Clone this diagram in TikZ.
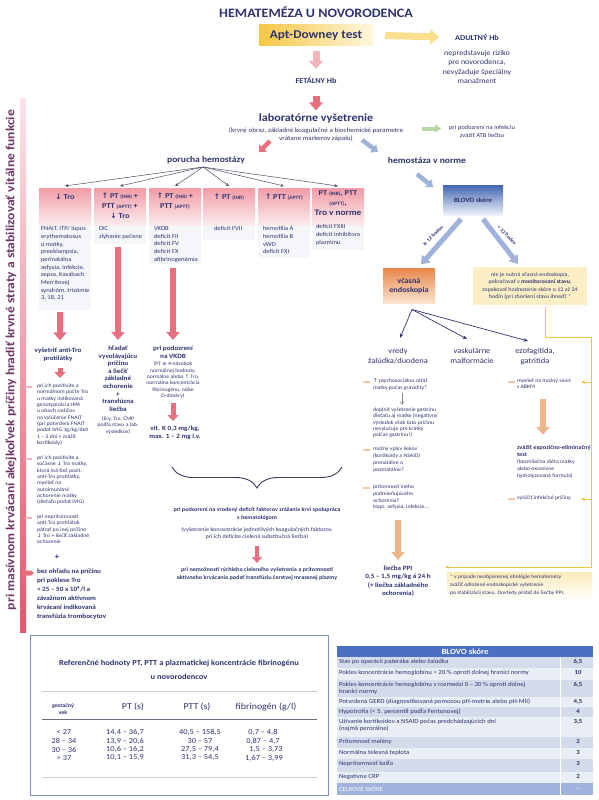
\documentclass[tikz,border=0pt]{standalone}
\usepackage{fontspec}
\usepackage{graphicx}
\setmainfont[FakeStretch=1.1]{Carlito}
\newfontfamily\symf{DejaVu Sans}
\usetikzlibrary{arrows.meta,decorations.pathreplacing,calc}
\definecolor{navy}{HTML}{2E3470}
\definecolor{redA}{HTML}{E8707E}
\definecolor{pinkA}{HTML}{F4B4BC}
\definecolor{pinkH}{HTML}{F29CA6}
\definecolor{pinkL}{HTML}{FCEDEF}
\definecolor{blueA}{HTML}{9EB2DB}
\definecolor{yelA}{HTML}{F9E08C}
\definecolor{yelL}{HTML}{F0C545}
\definecolor{yelBox}{HTML}{FCEFC5}
\definecolor{grnA}{HTML}{B8D8A3}
\definecolor{orA}{HTML}{EFB58C}
\definecolor{orM}{HTML}{F3C8A4}
\definecolor{bodyF}{HTML}{F5F6FA}
\definecolor{aptL}{HTML}{F6C744}
\definecolor{aptR}{HTML}{FEF7DE}
\definecolor{bloT}{HTML}{4266B0}
\definecolor{bloB}{HTML}{EEF2FA}
\definecolor{orT}{HTML}{E9874C}
\definecolor{orB}{HTML}{FBE4D3}
\definecolor{vtxt}{HTML}{6E3566}
\definecolor{bandT}{HTML}{FBE3E7}
\definecolor{bandB}{HTML}{E4566C}
\definecolor{tblB}{HTML}{7D93C2}
\definecolor{tblL}{HTML}{C9CEDC}
\definecolor{tblK}{HTML}{6E6F7E}
\definecolor{bH}{HTML}{4A70C2}
\definecolor{bD}{HTML}{D4DBEA}
\definecolor{bL}{HTML}{EAEEF6}
\definecolor{bT}{HTML}{9FB3DE}
\definecolor{fanC}{HTML}{4A4D63}
\definecolor{brC}{HTML}{3B3F5E}
\newcommand\fs[2]{\fontsize{#1}{#2}\selectfont}
\newcommand\smc[1]{{\fontsize{5}{6}\selectfont #1}}
\newcommand\myup{{\symf ↑}}
\newcommand\mydn{{\symf ↓}}
\newcommand\myge{{\symf ≥}}
\newcommand\brow[5]{%
  \fill[#3] (337,#1) rectangle (593,#2);
  \draw[white,line width=0.7pt] (337,#2) -- (593,#2);
  \node[font=\fs{6.2}{7.3},align=left,anchor=north west] (brt#1) at (339,#1+2.2) {#4};
  \node[font=\bfseries\fs{6.2}{7.3},anchor=north] (brv#1) at (578,#1+2.2) {#5};
}
\begin{document}
\begin{tikzpicture}[x=1pt,y=-1pt,
  every node/.style={inner sep=0pt,outer sep=0pt,text=navy,align=center},
  blk/.style n args={3}{line width=#1,-{Triangle[width=#2,length=#3]}},
  fanarr/.style={draw=fanC,line width=0.5pt,-{Stealth[length=3.5pt,width=3pt]}},
  endarr/.style={draw=navy,line width=0.7pt,-{Stealth[length=4.5pt,width=3.5pt]}},
  yline/.style={draw=yelL,line width=0.8pt},
  yarr/.style={draw=yelL,line width=0.8pt,-{Stealth[length=4pt,width=3.5pt]}},
  tinyl/.style={font=\fs{5.3}{6.3},align=left,anchor=north west},
  bodyt/.style={font=\fs{6}{7.7},align=left,anchor=north west},
  hdrbox/.style={anchor=north,minimum width=52pt,minimum height=38pt,top color=pinkH,bottom color=pinkL},
  bodybox/.style={anchor=north,minimum width=52pt,fill=bodyF},
  hdrt/.style={font=\bfseries\fs{7.5}{10},anchor=north},
  mkr/.style={fill=pinkA,minimum width=7pt,minimum height=2pt},
  mko/.style={fill=orM,minimum width=7pt,minimum height=2pt},
]
\useasboundingbox[fill=white] (0,0) rectangle (599,800);

% ---- left band and vertical text
\node[minimum width=6pt,minimum height=534pt,top color=bandT,bottom color=bandB] (band) at (23,365) {};
\node[rotate=90,font=\bfseries\fs{12.3}{14},text=vtxt] (vert) at (11,360) {pri masívnom krvácaní akejkoľvek príčiny hradiť krvné straty a stabilizovať vitálne funkcie};

% ---- top
\node[font=\bfseries\fs{12.8}{15}] (title) at (316,12) {HEMATEMÉZA U NOVORODENCA};
\node[minimum width=114pt,minimum height=21pt,left color=aptL,right color=aptR,font=\bfseries\fs{12}{14}] (apt) at (316,35.5) {Apt-Downey test};
\node[font=\bfseries\fs{7.5}{9}] (adult) at (477,37) {ADULTNÝ Hb};
\node[font=\fs{7.3}{9.2}] (adtx) at (477,67) {nepredstavuje riziko\\pre novorodenca,\\nevyžaduje špeciálny\\manažment};
\draw[blk={7pt}{15pt}{9pt},yelA] ([xshift=12pt]apt.east) -- ([xshift=-16pt]adult.west);
\node[font=\bfseries\fs{7.5}{9}] (fetal) at (316,80) {FETÁLNY Hb};
\draw[blk={7pt}{14pt}{8pt},pinkA] ([yshift=-5pt]apt.south) -- ([yshift=8pt]fetal.north);
\node[font=\bfseries\fs{11}{13}] (lab) at (316,119) {laboratórne vyšetrenie};
\draw[blk={7pt}{14pt}{8pt},redA] ([yshift=-13pt]fetal.south) -- ([yshift=4pt]lab.north);
\node[font=\fs{6.5}{8}] (labsub) at (316,134.5) {(krvný obraz, základné koagulačné a biochemické parametre\\vrátane markerov zápalu)};
\node[font=\fs{6}{8.5}] (inf) at (482,131.5) {pri podozrení na infekciu\\zvážiť ATB liečbu};
\draw[blk={4pt}{8pt}{6pt},grnA] ([xshift=-27pt,yshift=3pt]inf.west) -- ([xshift=-8pt,yshift=3pt]inf.west);

\node[font=\bfseries\fs{8.7}{10}] (poru) at (206,160) {porucha hemostázy};
\node[font=\bfseries\fs{8.7}{10}] (norm) at (427,160) {hemostáza v norme};
\coordinate (rd1) at (270,141);
\coordinate (bd1) at (362,140);
\draw[blk={4.5pt}{10pt}{6pt},redA] (rd1) -- ($(poru.north east)+(14,-4)$);
\draw[blk={4.5pt}{10pt}{6pt},blueA] (bd1) -- ($(norm.north west)+(-10,-5)$);

% ---- BLOVO box
\node[minimum width=60pt,minimum height=30pt,top color=bloT,bottom color=bloB,font=\bfseries\fs{6.5}{8}] (blovo) at (473,200) {\raisebox{-3pt}{BLOVO skóre}};
\draw[blk={4.5pt}{10pt}{6pt},blueA] ($(norm.south)+(-10,11)$) -- ($(blovo.north west)+(-10,2)$);

% ---- hemostasis boxes
\coordinate (fo) at (203,167);
\foreach \i/\x in {1/65,2/120,3/175,4/229,5/284,6/338}{
  \node[hdrbox] (h\i) at (\x,188) {};
  \draw[fanarr] (fo) -- ([yshift=2pt]h\i.north);
}
\node[bodybox,minimum height=84pt] (b1) at (65,226) {};
\node[bodybox,minimum height=18pt] (b2) at (120,226) {};
\node[bodybox,minimum height=38pt] (b3) at (175,226) {};
\node[bodybox,minimum height=14pt] (b4) at (229,226) {};
\node[bodybox,minimum height=32pt] (b5) at (284,226) {};
\node[bodybox,minimum height=24pt] (b6) at (338,226) {};

\node[hdrt] (t1) at (65,194) {\mydn{} Tro};
\node[hdrt] (t2) at (120,193) {\myup{} PT \smc{(INR)} +\\PTT \smc{(APTT)} +\\\mydn{} Tro};
\node[hdrt] (t3) at (175,193) {\myup{} PT \smc{(INR)} +\\PTT \smc{(APTT)}};
\node[hdrt] (t4) at (229,194) {\myup{} PT \smc{(INR)}};
\node[hdrt] (t5) at (284,194) {\myup{} PTT \smc{(APTT)}};
\node[hdrt] (t6) at (338,191) {PT \smc{(INR)}, PTT\\\smc{(APTT)},\\{\fs{8.5}{10}Tro v norme}};

\node[bodyt] (bt1) at (41,226.5) {FNAIT, ITP/ lupus\\erythematosus\\u matky,\\preeklampsia,\\perinatálna\\asfyxia, infekcie,\\sepsa, Kasabach\\Merritovej\\syndróm, trizómie\\3, 18, 21};
\node[bodyt] (bt2) at (99,226.5) {DIC\\zlyhanie pečene};
\node[bodyt] (bt3) at (154,226.5) {VKDB\\deficit FII\\deficit FV\\deficit FX\\afibrinogenémia};
\node[bodyt] (bt4) at (214,226.5) {deficit FVII};
\node[bodyt] (bt5) at (263,226.5) {hemofília A\\hemofília B\\vWD\\deficit FXI};
\node[bodyt] (bt6) at (316,224.5) {deficit FXIII\\deficit inhibítora\\plazmínu};

% ---- column 1
\node[font=\bfseries\fs{6.5}{8.5}] (anti) at (58,354.5) {vyšetriť anti-Tro\\protilátky};
\draw[blk={6pt}{13pt}{8pt},redA] ($(b1.south -| anti.north)+(2,2)$) -- ($(anti.north)+(2,-7)$);
\node[tinyl] (bul1) at (37,384) {pri ich pozitivite a\\normálnom počte Tro\\u matky indikovaná\\genotypizácia HPA\\u oboch rodičov\\na vylúčenie FNAIT\\(pri potvrdení FNAIT\\podať IVIG 1g/kg/deň\\1 – 3 dni + zvážiť\\kortikoidy)};
\draw[blk={5pt}{11pt}{6pt},redA] ($(anti.south)+(2,6)$) -- ($(bul1.north -| anti.south)+(2,-6)$);
\node[mkr] (m1) at (28.5,387) {};
\node[tinyl] (bul2) at (37,456) {pri ich pozitivite a\\súčasne \mydn{} Tro matky,\\ktorá má tiež pozit.\\anti-Tro protilátky,\\myslieť na\\autoimunitné\\ochorenie matky\\(dieťaťu podať IVIG)};
\node[mkr] (m2) at (28.5,459) {};
\node[tinyl] (bul3) at (37,515) {pri neprítomnosti\\anti-Tro protilátok\\pátrať po inej príčine\\\mydn{} Tro + liečiť základné\\ochorenie};
\node[mkr] (m3) at (28.5,518) {};
\node[font=\bfseries\fs{8}{9}] (plus) at (57,557) {+};
\fill[redA] (22,570.5) -- (31,570.5) -- (34,573) -- (31,575.5) -- (22,575.5) -- cycle;
\node[font=\bfseries\fs{6.5}{9},align=left,anchor=north west] (bul4) at (37,569) {bez ohľadu na príčinu\\pri poklese Tro\\< 25 – 50 x 10\textsuperscript{9}/l a\\závažnom aktívnom\\krvácaní indikovaná\\transfúzia trombocytov};

% ---- column 2
\node[font=\bfseries\fs{6.5}{7.6},anchor=north] (hl) at (118,346) {hľadať\\vyvolávajúcu\\príčinu\\a liečiť\\základné\\ochorenie\\+\\transfúzna\\liečba};
\draw[blk={6pt}{13pt}{8pt},redA] ($(b2.south -| hl.north)+(0,3)$) -- ($(hl.north)+(0,-6)$);
\node[font=\fs{5.2}{6.2},anchor=north] (ery) at (118,416.5) {(Ery, Tro, ČMP\\podľa stavu a lab.\\výsledkov)};

% ---- column 3
\node[font=\bfseries\fs{6.5}{8},anchor=north] (vk) at (173,346) {pri podozrení\\na VKDB};
\draw[blk={6pt}{13pt}{8pt},redA] ($(b3.south -| vk.north)+(0,4)$) -- ($(vk.north)+(0,-6)$);
\node[font=\fs{5.2}{6.3},anchor=north] (vkd) at (173,362) {(PT \myge{} 4-násobok\\normálnej hodnoty,\\normálne alebo \myup{} Tro,\\normálna koncentrácia\\fibrinogénu, nízke\\D-diméry)};
\node[font=\bfseries\fs{6.5}{8},anchor=north] (vitk) at (175,426) {vit. K 0,3 mg/kg,\\max. 1 – 2 mg i.v.};
\draw[blk={5pt}{11pt}{6pt},redA] ($(vkd.south)+(0,5)$) -- ($(vitk.north -| vkd.south)+(0,-5)$);

% ---- brace and congenital deficit
\coordinate (brL) at (172,467);
\coordinate (brR) at (342,467);
\draw[brC,line width=0.9pt,decorate,decoration={brace,amplitude=21pt,mirror}] (brL) -- (brR);
\node[font=\bfseries\fs{5.6}{8},anchor=north] (hem1) at (257,508) {pri podozrení na vrodený deficit faktorov zrážania krvi spolupráca\\s hematológom};
\node[font=\fs{5.6}{7},anchor=north] (hem2) at (257,527.5) {(vyšetrenie koncentrácie jednotlivých koagulačných faktorov,\\pri ich deficite cielená substitučná liečba)};
\node[font=\bfseries\fs{5.6}{7.5},anchor=north] (hem3) at (257,568) {pri nemožnosti rýchleho cieleného vyšetrenia a prítomnosti\\aktívneho krvácania podať transfúziu čerstvej mrazenej plazmy};
\draw[blk={4.5pt}{10pt}{6pt},redA] ($(hem2.south)+(0,6)$) -- ($(hem3.north)+(0,-5)$);

% ---- endoscopy branch
\node[minimum width=52pt,minimum height=35pt,top color=orT,bottom color=orB,font=\bfseries\fs{7.5}{9}] (vcas) at (409,286) {včasná\\endoskopia};
\node[minimum width=114pt,minimum height=38pt,fill=yelBox,font=\fs{5.5}{7.4}] (nie) at (530,286) {nie je nutná včasná endoskopia,\\pokračovať v \textbf{monitorovaní stavu},\\zopakovať hodnotenie skóre o 12 až 24\\hodín (pri zhoršení stavu ihneď) *};
\draw[blk={5pt}{11pt}{8pt},blueA] ($(blovo.south)+(-12,4)$) -- ($(vcas.north)+(12,-4)$);
\draw[blk={5pt}{11pt}{8pt},blueA] ($(blovo.south)+(10,4)$) -- ($(nie.north)+(-12,-3)$);
\node[rotate=44,font=\bfseries\fs{5}{6}] (ge12) at (433,236) {\myge{} 12 bodov};
\node[rotate=-46,font=\bfseries\fs{5}{6}] (lt12) at (507,235) {< 12 bodov};

\node[font=\fs{7.7}{10},anchor=north] (vredy) at (398,348) {vredy\\žalúdka/duodena};
\node[font=\fs{7.7}{10},anchor=north] (vask) at (472,348) {vaskulárne\\malformácie};
\node[font=\fs{7.7}{10},anchor=north] (ezof) at (535,348) {ezofagitída,\\gatritída};
\coordinate (eo) at ($(vcas.south)+(3,6)$);
\draw[endarr] (eo) -- ($(vredy.north)+(2,-10)$);
\draw[endarr] (eo) -- ($(vask.north)+(-5,-9)$);
\draw[endarr] (eo) -- ($(ezof.north)+(-7,-7)$);

\node[mko] (mv1) at (366.5,382) {};
\node[tinyl] (tv1) at (373,379) {\myup{} psychosociálna záťaž\\matky počas gravidity?};
\node[tinyl] (tv2) at (373,408) {doplniť vyšetrenie gastrínu\\dieťaťu aj matke (negatívny\\výsledok však túto príčinu\\nevylučuje pre krátky\\polčas gastrínu!)};
\draw[draw=fanC!70,line width=0.5pt,-{Straight Barb[length=3pt,width=4pt]}] ($(tv1.south west)+(29,3)$) -- ($(tv2.north west)+(29,-3)$);
\node[mko] (mv2) at (366.5,450) {};
\node[tinyl,font=\fs{5.3}{7}] (tv3) at (373,447) {možný vplyv liekov\\(kortikoidy a NSAID)\\prenatálne a\\postnatálne?};
\node[mko] (mv3) at (366.5,488) {};
\node[tinyl,font=\fs{5.3}{6.7}] (tv4) at (373,485) {prítomnosť iného\\podmieňujúceho\\ochorenia?\\Napr. asfyxia, infekcie...};
\node[font=\bfseries\fs{6.5}{8.3},anchor=north] (ppi) at (398,566) {liečba PPI\\0,5 – 1,5 mg/kg á 24 h\\(+ liečba základného\\ochorenia)};
\draw[blk={6pt}{13pt}{8pt},orA] ($(tv4.south -| ppi.north)+(0,10)$) -- ($(ppi.north)+(0,-6)$);

\node[mko] (me1) at (511.5,382) {};
\node[tinyl] (te1) at (517,379) {myslieť na možný súvis\\s ABKM};
\node[font=\bfseries\fs{5.8}{7},align=left,anchor=north west] (te2) at (517,445) {zvážiť expozično-eliminačný\\test};
\draw[blk={6pt}{13pt}{8pt},orA] ($(te1.south west)+(26,10)$) -- ($(te2.north west)+(26,-10)$);
\node[tinyl,font=\fs{5.3}{7}] (te3) at (517,459.5) {(bezmliečna diéta matky\\alebo excesívne\\hydrolyzovaná formula)};
\node[mko] (me2) at (511.5,499) {};
\node[tinyl] (te4) at (517,496) {vylúčiť infekčné príčiny};

% footnote
\node[minimum width=145pt,minimum height=28pt,top color=yelBox!90!yelL,bottom color=white,anchor=north west] (foot) at (447,572) {};
\node[font=\fs{5.2}{8},align=left,anchor=north west] (foottx) at (450,574.5) {* v prípade neobjasnenej etiológie hematemézy\\zvážiť odložené endoskopické vyšetrenie\\po stabilizácii stavu. Dovtedy pridať do liečby PPI.};

% yellow connector
\coordinate (y1) at (591,337);
\coordinate (y2) at (591,567);
\draw[yarr] ($(nie.south)+(15,2)$) |- (y1) -- (y2) -- ($(foot.north west)+(-2,-5)$);
\coordinate (yb1) at (591,382); \coordinate (ye1) at (581,382);
\coordinate (yb2) at (591,499); \coordinate (ye2) at (581,499);
\draw[yarr] (yb1) -- (ye1);
\draw[yarr] (yb2) -- (ye2);

% ---- reference table
\node[draw=tblB,line width=1pt,minimum width=298pt,minimum height=160pt,anchor=north west] (reft) at (30,635) {};
\node[font=\bfseries\fs{7.7}{14}] (rtit) at (179,670) {Referenčné hodnoty PT, PTT a plazmatickej koncentrácie fibrinogénu\\u novorodencov};
\draw[tblL,line width=0.6pt] (42,691) -- (317,691);
\node[font=\bfseries\fs{5.5}{7.5}] (rh1) at (63,709) {gestačný\\vek};
\node[font=\fs{9}{11}] (rh2) at (133,707) {PT (s)};
\node[font=\fs{9}{11}] (rh3) at (197,707) {PTT (s)};
\node[font=\fs{9}{11}] (rh4) at (266,707) {fibrinogén (g/l)};
\draw[tblK,line width=0.9pt] (42,719) -- (317,719);
\node[font=\fs{7.6}{9}] (r1a) at (64,732) {< 27};
\node[font=\fs{7.6}{9}] (r1b) at (125,732) {14,4 – 36,7};
\node[font=\fs{7.6}{9}] (r1c) at (200,732) {40,5 – 158,5};
\node[font=\fs{7.6}{9}] (r1d) at (263,732) {0,7 – 4,8};
\node[font=\fs{7.6}{9}] (r2a) at (64,741) {28 – 34};
\node[font=\fs{7.6}{9}] (r2b) at (125,741) {13,9 – 20,6};
\node[font=\fs{7.6}{9}] (r2c) at (200,741) {30 – 57};
\node[font=\fs{7.6}{9}] (r2d) at (263,741) {0,87 – 4,7};
\node[font=\fs{7.6}{9}] (r3a) at (64,749.5) {30 – 36};
\node[font=\fs{7.6}{9}] (r3b) at (125,749.5) {10,6 – 16,2};
\node[font=\fs{7.6}{9}] (r3c) at (200,749.5) {27,5 – 79,4};
\node[font=\fs{7.6}{9}] (r3d) at (266,749.5) {1,5 – 3,73};
\node[font=\fs{7.6}{9}] (r4a) at (64,758) {> 37};
\node[font=\fs{7.6}{9}] (r4b) at (125,758) {10,1 – 15,9};
\node[font=\fs{7.6}{9}] (r4c) at (200,758) {31,3 – 54,5};
\node[font=\fs{7.6}{9}] (r4d) at (264,758) {1,67 – 3,99};
\draw[tblL,line width=0.6pt] (42,777) -- (317,777);

% ---- BLOVO table
\node[fill=bH,minimum width=256pt,minimum height=11pt,anchor=north west,font=\bfseries\fs{8}{9},text=white] (bth) at (337,646) {BLOVO skóre};
\brow{657}{668}{bD}{Stav po operácii pažeráka alebo žalúdka}{6,5}
\brow{668}{680}{bL}{Pokles koncentrácie hemoglobínu > 20 \% oproti dolnej hranici normy}{10}
\brow{680}{697}{bD}{Pokles koncentrácie hemoglobínu v rozmedzí 0 – 20 \% oproti dolnej\\hranici normy}{6,5}
\brow{697}{707}{bL}{Potvrdená GERD (diagnostikovaná pomocou pH-metrie alebo pH-MII)}{4,5}
\brow{707}{717}{bD}{Hypotrofia (< 5. percentil podľa Fentonovej)}{4}
\brow{717}{737}{bL}{Užívanie kortikoidov a NSAID počas predchádzajúcich dní\\(najmä perorálne)}{3,5}
\brow{737}{748}{bD}{Prítomnosť melény}{2}
\brow{748}{759}{bL}{Normálna telesná teplota}{3}
\brow{759}{772}{bD}{Neprítomnosť kašľa}{3}
\brow{772}{783}{bL}{Negatívne CRP}{2}
\fill[bT] (337,783) rectangle (593,795);
\node[font=\fs{6.2}{7.3},text=white,anchor=west] (btot) at (339,789) {CELKOVÉ SKÓRE};
\node[font=\fs{6.2}{7.3},text=white] (btotv) at (578,789) {...};
\draw[white,line width=0.7pt] (560,657) -- (560,795);
\end{tikzpicture}
\end{document}
